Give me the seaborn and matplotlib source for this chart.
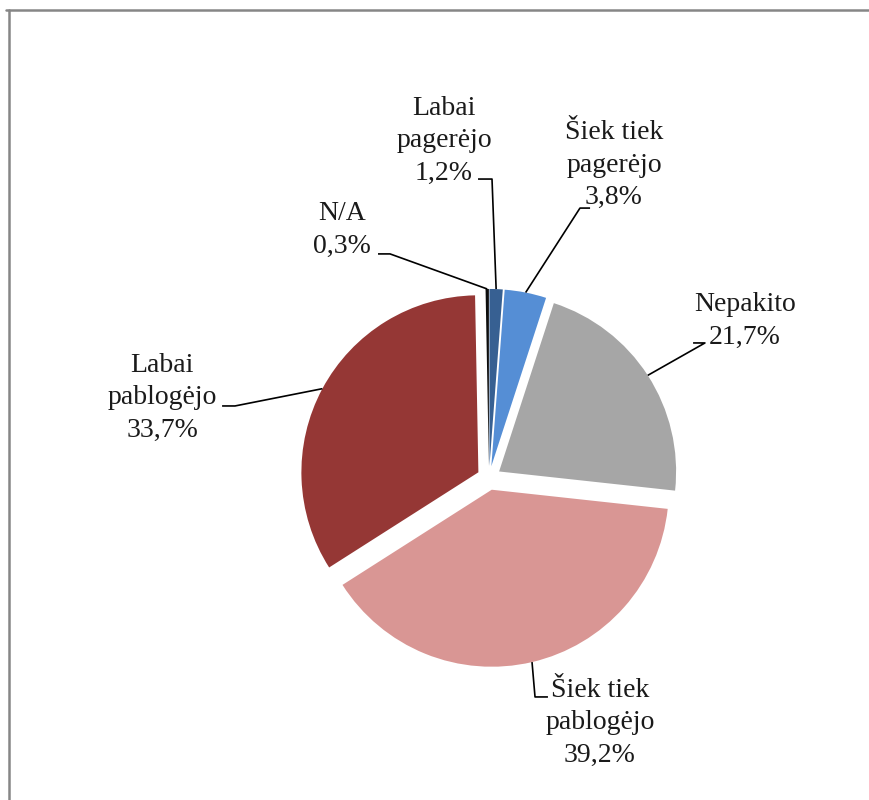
import matplotlib.pyplot as plt
import numpy as np
import seaborn as sns
from matplotlib.lines import Line2D

# Daten
categories = [
    "Labai\npagerėjo",
    "Šiek tiek\npagerėjo",
    "Nepakito",
    "Šiek tiek\npablogėjo",
    "Labai\npablogėjo",
    "N/A",
]
shares = [1.2, 3.8, 21.7, 39.2, 33.7, 0.3]
share_labels = ["1,2%", "3,8%", "21,7%", "39,2%", "33,7%", "0,3%"]
colors = ["#376092", "#558ED5", "#A6A6A6", "#D99694", "#953735", "#0D0D0D"]

# Layout der Beschriftungen (Textmitte, Knickpunkt, Ende der Führungslinie)
label_pos = [(-0.254, 1.904), (0.706, 1.768), (1.446, 0.887),
             (0.627, -1.384), (-1.847, 0.452), (-0.831, 1.401)]
elbow_pos = [(0.017, 1.689), (0.514, 1.525), (1.220, 0.763),
             (0.260, -1.237), (-1.435, 0.407), (-0.559, 1.266)]
line_end = [(-0.062, 1.689), (0.571, 1.525), (1.153, 0.763),
            (0.333, -1.237), (-1.508, 0.407), (-0.627, 1.266)]

EXPLODE = 0.068

sns.set_theme(style="white")
plt.rcParams["font.family"] = ["Liberation Serif", "DejaVu Serif"]

fig = plt.figure(figsize=(8.7, 8.0), dpi=100)
ax = fig.add_axes([0, 0, 1, 1])

wedges, _ = ax.pie(
    shares,
    colors=colors,
    startangle=90,
    counterclock=False,
    explode=[EXPLODE] * len(shares),
    radius=1.0,
    wedgeprops={"linewidth": 0},
)

for wedge, cat, lab, tpos, elbow, end in zip(
    wedges, categories, share_labels, label_pos, elbow_pos, line_end
):
    mid = np.deg2rad((wedge.theta1 + wedge.theta2) / 2)
    cx, cy = wedge.center
    px = cx + wedge.r * np.cos(mid)
    py = cy + wedge.r * np.sin(mid)
    ax.plot([px, elbow[0], end[0]], [py, elbow[1], end[1]],
            color="black", linewidth=1.2, solid_capstyle="butt")
    ax.text(tpos[0], tpos[1], f"{cat}\n{lab}", ha="center", va="center",
            multialignment="center", fontsize=20, linespacing=1.38,
            color="#1a1a1a")

ax.set_xlim(-489 / 177, (870 - 489) / 177)
ax.set_ylim(-(800 - 478) / 177, 478 / 177)
ax.set_aspect("equal")
ax.axis("off")

# Rahmen oben und links
fig.add_artist(Line2D([6 / 870, 1], [1 - 10 / 800, 1 - 10 / 800],
                      color="#868686", linewidth=1.8, transform=fig.transFigure))
fig.add_artist(Line2D([9 / 870, 9 / 870], [0, 1 - 10 / 800],
                      color="#868686", linewidth=1.8, transform=fig.transFigure))

fig.savefig("out.png", dpi=100, facecolor="white")
plt.close(fig)
